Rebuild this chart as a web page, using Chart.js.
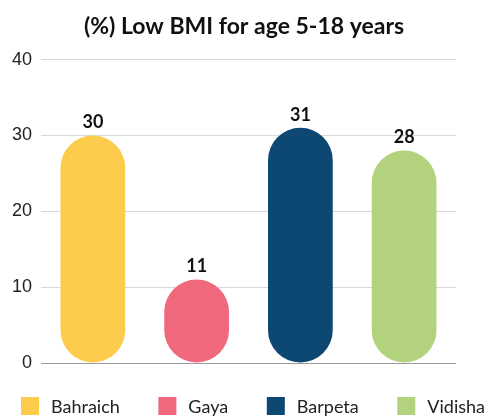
<!DOCTYPE html>
<html>
<head>
<meta charset="utf-8">
<script src="https://cdn.jsdelivr.net/npm/chart.js@4.4.0/dist/chart.umd.min.js"></script>
<style>
  html, body { margin: 0; padding: 0; background: #fff; }
  #box { width: 488px; height: 416px; }
</style>
</head>
<body>
<div id="box"><canvas id="myChart"></canvas></div>
<script>
const distritos = ["Bahraich", "Gaya", "Barpeta", "Vidisha"]
const valores = [30, 11, 31, 28]
const colores = ["#FECC4C", "#F0687C", "#0D4873", "#B2D27E"]
const ticksY = [0, 10, 20, 30, 40]

// etiquetas encima de cada barra
const etiquetasBarras = {
  id: "etiquetasBarras",
  afterDatasetsDraw(chart) {
    const ctx = chart.ctx
    const meta = chart.getDatasetMeta(0)
    ctx.save()
    ctx.font = "bold 18px Lato"
    ctx.fillStyle = "#111"
    ctx.textAlign = "center"
    ctx.textBaseline = "bottom"
    meta.data.forEach((barra, i) => {
      ctx.fillText(String(valores[i]), barra.x, barra.y - 4)
    })
    ctx.restore()
  }
}

// leyenda abajo, repartida a lo ancho
const leyenda = {
  id: "leyenda",
  afterDraw(chart) {
    const ctx = chart.ctx
    const caja = 18
    const sep = 12
    ctx.save()
    ctx.font = "18px Lato"
    ctx.textBaseline = "middle"
    const anchos = distritos.map(d => caja + sep + ctx.measureText(d).width)
    const inicio = 21
    const fin = chart.width - 3
    const libre = (fin - inicio) - anchos.reduce((a, b) => a + b, 0)
    const hueco = libre / (distritos.length - 1)
    const y = chart.height - 19
    let x = inicio
    distritos.forEach((d, i) => {
      ctx.fillStyle = colores[i]
      ctx.fillRect(x, y, caja, caja)
      ctx.fillStyle = "#222"
      ctx.fillText(d, x + caja + sep, y + caja / 2 + 1)
      x += anchos[i] + hueco
    })
    ctx.restore()
  }
}

const ctx = document.getElementById("myChart").getContext("2d")

myChart = new Chart(ctx, {
  type: "bar",
  data: {
    labels: distritos,
    datasets: [{
      label: "Low BMI",
      data: valores,
      backgroundColor: colores,
      borderRadius: 100,
      borderSkipped: false,
      categoryPercentage: 0.8,
      barPercentage: 0.78
    }]
  },
  options: {
    responsive: true,
    maintainAspectRatio: false,
    animation: false,
    layout: { padding: { left: 0, right: 0, top: 0, bottom: 53 } },
    plugins: {
      title: {
        display: true,
        text: "(%) Low BMI for age 5-18 years",
        color: "#111",
        font: { family: "Lato", size: 23, weight: "bold" },
        padding: { top: 13, bottom: 19 }
      },
      legend: { display: false },
      tooltip: { enabled: false }
    },
    scales: {
      x: {
        grid: { display: false, drawTicks: false },
        border: { display: false },
        ticks: { display: false }
      },
      y: {
        min: 0,
        max: 40,
        afterBuildTicks: (axis) => { axis.ticks = ticksY.map(v => ({ value: v })) },
        afterFit: (axis) => { axis.width = 41 },
        grid: {
          drawTicks: false,
          color: (c) => c.tick && c.tick.value === 0 ? "#9a9a9a" : "#d9d9d9"
        },
        border: { display: false },
        ticks: {
          padding: 9,
          color: "#222",
          font: { family: "Liberation Sans", size: 18 }
        }
      },
      margen: {
        type: "linear",
        position: "right",
        afterFit: (axis) => { axis.width = 32 },
        grid: { display: false, drawTicks: false },
        border: { display: false },
        ticks: { display: false }
      }
    }
  },
  plugins: [etiquetasBarras, leyenda]
})
</script>
</body>
</html>
